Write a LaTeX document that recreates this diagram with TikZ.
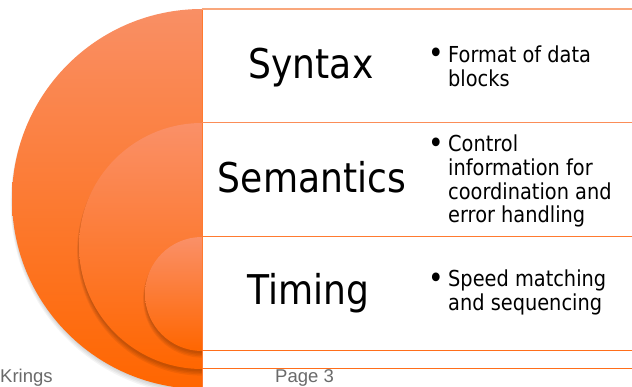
\documentclass[tikz,border=0pt]{standalone}
\usepackage{fontspec}
\setmainfont{DejaVu Sans}[FakeStretch=0.88]
\newfontfamily\footfont{Liberation Sans}
\definecolor{otop}{HTML}{F98F65}
\definecolor{obot}{HTML}{FF6600}
\definecolor{itop}{HTML}{FA9068}
\definecolor{footgray}{HTML}{6A6A6A}
\definecolor{lineA}{HTML}{F9A77C}
\definecolor{lineB}{HTML}{FB8D58}
\definecolor{lineC}{HTML}{FF7A30}
\definecolor{lineD}{HTML}{FF6E1A}
\newcommand{\bdot}{\makebox[21pt][l]{\hspace*{1pt}{\fontsize{30}{23}\selectfont\raisebox{-1.2pt}{•}}}}
\newcommand{\bind}{\hspace*{21pt}}
\begin{document}
\begin{tikzpicture}[x=1pt,y=-1pt,
  bigword/.style={font=\fontsize{41}{41}\selectfont, inner sep=0pt, anchor=base},
  bullettext/.style={font=\fontsize{22}{23}\selectfont, inner sep=0pt, anchor=base west},
  foottext/.style={font=\footfont\fontsize{18.5}{18.5}\selectfont, text=footgray, inner sep=0pt, anchor=base west},
  sepline/.style={line width=1.1pt}]
\useasboundingbox (0,0) rectangle (632,387);
\fill[white] (0,0) rectangle (632,387);
\begin{scope}
  \clip (0,0) rectangle (202,400);
  % big half disc with soft shadow
  \foreach \i in {1,...,4} \fill[black,opacity=0.045] (202.5,199.5+\i*0.9) circle (189.5+\i*0.6);
  \shade[top color=otop,bottom color=obot] (202,199) circle (190);
  % middle half disc
  \foreach \i in {1,...,4} \fill[black,opacity=0.06] (202,247.5+\i*0.8) circle (122.5+\i*0.6);
  \shade[top color=itop,bottom color=obot] (202,246) circle (123);
  % small half disc
  \foreach \i in {1,...,4} \fill[black,opacity=0.06] (202,295.5+\i*0.8) circle (56.5+\i*0.6);
  \shade[top color=itop,bottom color=obot] (202,294) circle (57);
\end{scope}
% right edge and separators
\draw[line width=1pt,lineC] (202,9) -- (202,387);
\draw[sepline,lineA] (202,9) -- (632,9);
\draw[sepline,lineB] (202,122.5) -- (632,122.5);
\draw[sepline,lineC] (202,236.5) -- (632,236.5);
\draw[sepline,lineD] (202,350.5) -- (632,350.5);
\draw[sepline,lineD] (202,368.5) -- (632,368.5);
% words
\node[bigword] (syntax) at (311,79) {Syntax};
\node[bigword] (semantics) at (312,193) {Semantics};
\node[bigword] (timing) at (308,305) {Timing};
% bullets
\node[bullettext] (syntaxb) at (427,62.5) {\begin{tabular}[t]{@{}l@{}}\bdot Format of data\\\bind blocks\end{tabular}};
\node[bullettext] (semanticsb) at (427,152) {\begin{tabular}[t]{@{}l@{}}\bdot Control\\\bind information for\\\bind coordination and\\\bind error handling\end{tabular}};
\node[bullettext] (timingb) at (427,287) {\begin{tabular}[t]{@{}l@{}}\bdot Speed matching\\\bind and sequencing\end{tabular}};
% footer
\node[foottext] (krings) at (0,382.5) {Krings};
\node[foottext] (page) at (275,382.5) {Page 3};
\end{tikzpicture}
\end{document}
